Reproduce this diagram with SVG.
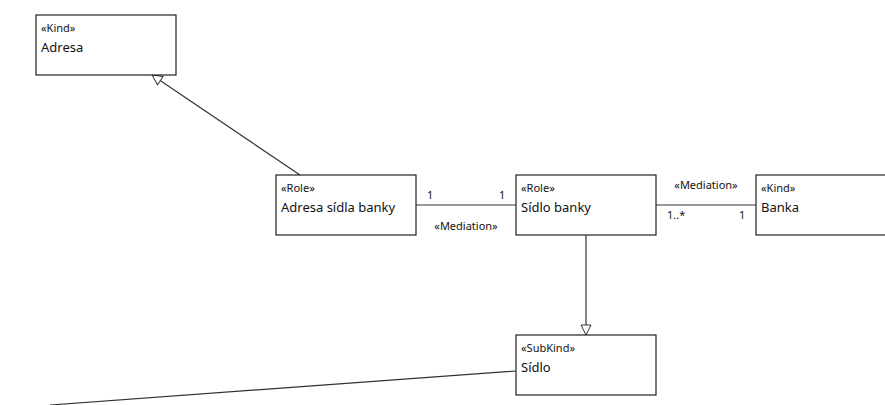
<svg xmlns="http://www.w3.org/2000/svg" width="885" height="405" viewBox="0 0 885 405">
  <style>
    .box { fill: #ffffff; stroke: #222222; stroke-width: 1.2; }
    .st { font-family: "Noto Sans", "Open Sans", sans-serif; font-size: 11px; fill: #111111; }
    .nm { font-family: "Noto Sans", "Open Sans", sans-serif; font-size: 13px; fill: #111111; }
    .lbl { font-family: "Noto Sans", "Open Sans", sans-serif; font-size: 11px; fill: #111111; }
    .ln { stroke: #333333; stroke-width: 1.2; fill: none; }
  </style>
  <defs>
    <marker id="gen" viewBox="0 0 12 12" refX="11" refY="6" markerWidth="12" markerHeight="12" markerUnits="userSpaceOnUse" orient="auto">
      <path d="M1,1 L11,6 L1,11 Z" fill="#ffffff" stroke="#333333" stroke-width="1"/>
    </marker>
  </defs>
  <rect width="885" height="405" fill="#ffffff"/>

  <g id="connectors">
    <line class="ln" x1="300" y1="175" x2="152" y2="75" marker-end="url(#gen)"/>
    <line class="ln" x1="586" y1="235" x2="586" y2="335" marker-end="url(#gen)"/>
    <line class="ln" x1="416" y1="205" x2="516" y2="205"/>
    <text class="lbl" x="427" y="199">1</text>
    <text class="lbl" x="499" y="199">1</text>
    <text class="lbl" x="466" y="230" text-anchor="middle">«Mediation»</text>
    <line class="ln" x1="656" y1="205" x2="756" y2="205"/>
    <text class="lbl" x="706" y="189" text-anchor="middle">«Mediation»</text>
    <text class="lbl" x="667" y="219">1..*</text>
    <text class="lbl" x="739" y="219">1</text>
    <line class="ln" x1="516" y1="371" x2="50" y2="405"/>
  </g>

  <g id="adresa">
    <rect class="box" x="36" y="15" width="140" height="60"/>
    <text class="st" x="41" y="32">«Kind»</text>
    <text class="nm" x="41" y="52">Adresa</text>
  </g>
  <g id="adresa-sidla-banky">
    <rect class="box" x="276" y="175" width="140" height="60"/>
    <text class="st" x="281" y="192">«Role»</text>
    <text class="nm" x="281" y="212">Adresa sídla banky</text>
  </g>
  <g id="sidlo-banky">
    <rect class="box" x="516" y="175" width="140" height="60"/>
    <text class="st" x="521" y="192">«Role»</text>
    <text class="nm" x="521" y="212">Sídlo banky</text>
  </g>
  <g id="banka">
    <rect class="box" x="756" y="175" width="140" height="60"/>
    <text class="st" x="761" y="192">«Kind»</text>
    <text class="nm" x="761" y="212">Banka</text>
  </g>
  <g id="sidlo">
    <rect class="box" x="516" y="335" width="140" height="60"/>
    <text class="st" x="521" y="352">«SubKind»</text>
    <text class="nm" x="521" y="372">Sídlo</text>
  </g>
</svg>
